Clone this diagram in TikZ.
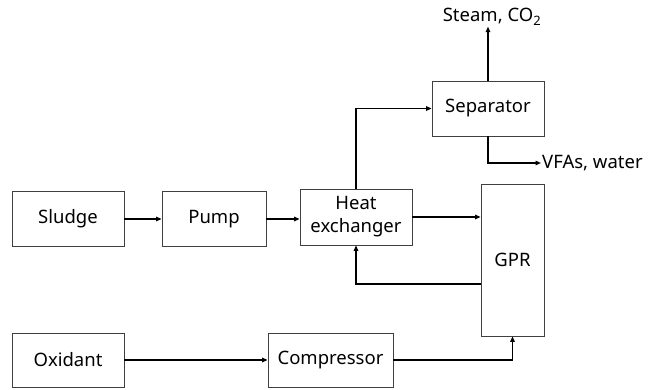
\documentclass[tikz,border=0pt]{standalone}
\usepackage{fontspec}
\setmainfont{Noto Sans}
\usetikzlibrary{arrows.meta}

\begin{document}
\begin{tikzpicture}[x=1pt,y=-1pt,
    unit/.style={draw=black!75, line width=0.8pt, align=center,
      inner sep=1pt, font=\fontsize{18.5}{23}\selectfont},
    flow/.style={line width=1.4pt, -{Triangle[length=5.5pt,width=4.5pt]}},
    lbl/.style={font=\fontsize{18.5}{23}\selectfont, inner sep=1pt}]
  % frame of the whole figure
  \useasboundingbox (0,0) rectangle (665,390);
  % process units
  \node[unit, minimum width=112pt, minimum height=55pt] (sludge) at (68,219) {Sludge};
  \node[unit, minimum width=104pt, minimum height=55pt] (pump) at (214,219) {Pump};
  \node[unit, minimum width=112pt, minimum height=56pt] (hx) at (356,217) {Heat\\exchanger};
  \node[unit, minimum width=63pt, minimum height=152pt] (gpr) at (512.5,260) {GPR};
  \node[unit, minimum width=112pt, minimum height=54pt] (oxidant) at (68,360) {Oxidant};
  \node[unit, minimum width=125pt, minimum height=54pt] (compressor) at (330.5,360) {Compressor};
  \node[unit, minimum width=112pt, minimum height=55pt] (separator) at (488,108.5) {Separator};
  % products
  \node[lbl] (steam) at (492,17) {Steam, CO\textsubscript{2}};
  \node[lbl, anchor=west] (vfas) at (541,163) {VFAs, water};
  % streams
  \draw[flow] (sludge) -- (pump);
  \draw[flow] (pump) -- (pump -| hx.west);
  \draw[flow] (hx.east) -- (hx.east -| gpr.west);
  \draw[flow] (hx.north) |- (separator.west);
  \draw[flow] (separator.north) -- (separator.north |- steam.south);
  \draw[flow] (separator.south) |- (vfas.west);
  \draw[flow] ([yshift=-24pt]gpr.west) -| (hx.south);
  \draw[flow] (oxidant) -- (compressor);
  \draw[flow] (compressor.east) -| (gpr.south);
\end{tikzpicture}
\end{document}
